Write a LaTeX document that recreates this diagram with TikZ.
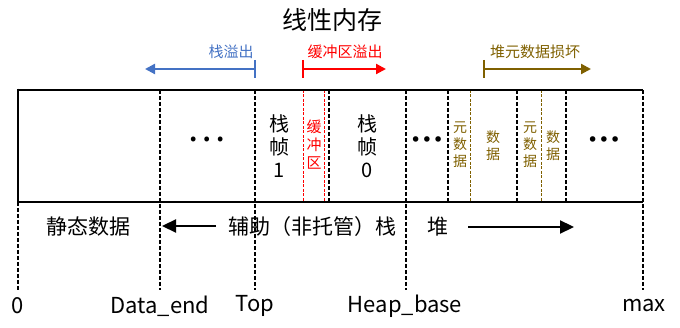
\documentclass[tikz,border=0pt]{standalone}
\usepackage{fontspec}
\setmainfont{Noto Sans CJK SC}
\newfontfamily\dejavu{DejaVu Sans}
\usetikzlibrary{arrows.meta}
\definecolor{ovblue}{RGB}{68,114,196}
\definecolor{ovred}{RGB}{255,0,0}
\definecolor{olivebrown}{RGB}{127,96,0}
\tikzset{
  every node/.style={inner sep=0pt, outer sep=0pt},
  edge/.style={line width=2.8pt},
  blackdash/.style={line width=1.8pt, dash pattern=on 4pt off 2pt},
  reddash/.style={ovred, line width=0.9pt, dash pattern=on 3pt off 1.5pt},
  olivedash/.style={olivebrown, line width=0.9pt, dash pattern=on 3pt off 1.5pt},
  toparrow/.style={line width=2.2pt, -{Triangle[length=10pt,width=10pt]}},
  bararrow/.style={line width=1.6pt},
  botarrow/.style={line width=2.2pt, -{Triangle[length=14pt,width=13pt]}},
  toplabel/.style={font=\fontsize{15}{17}\selectfont},
  biglabel/.style={font=\fontsize{21}{24}\selectfont},
  frame/.style={font=\fontsize{20}{23}\selectfont, align=center},
  small/.style={font=\fontsize{14}{17}\selectfont, align=center},
  addr/.style={font=\fontsize{22}{24}\selectfont},
}
\begin{document}
\begin{tikzpicture}[x=1pt,y=-1pt]
\useasboundingbox (0,0) rectangle (680,328);
% title
\node[font=\fontsize{25}{28}\selectfont] (title) at (332,20) {线性内存};
% top arrows
\node[toplabel, text=ovblue] (tso) at (231,52) {栈溢出};
\coordinate (b1) at (255,69); \coordinate (b2) at (145,69);
\coordinate (b1t) at (255,60); \coordinate (b1b) at (255,78);
\draw[bararrow, ovblue] (b1t) -- (b1b);
\draw[toparrow, ovblue] (b1) -- (b2);
\node[toplabel, text=ovred] (tbo) at (345,52) {缓冲区溢出};
\coordinate (r1) at (303,69); \coordinate (r2) at (386,69);
\coordinate (r1t) at (303,60); \coordinate (r1b) at (303,78);
\draw[bararrow, ovred] (r1t) -- (r1b);
\draw[toparrow, ovred] (r1) -- (r2);
\node[toplabel, text=olivebrown] (tho) at (535,52) {堆元数据损坏};
\coordinate (o1) at (484,69); \coordinate (o2) at (591,69);
\coordinate (o1t) at (484,60); \coordinate (o1b) at (484,78);
\draw[bararrow, olivebrown] (o1t) -- (o1b);
\draw[toparrow, olivebrown] (o1) -- (o2);
% inner dashed separators
\foreach \x in {329,448,517,566} \draw[blackdash] (\x,90) -- (\x,202);
\foreach \x in {303,324} \draw[reddash] (\x,90) -- (\x,202);
\foreach \x in {470,541} \draw[olivedash] (\x,90) -- (\x,202);
% long dashed
\foreach \x in {160,255,406,643} \draw[blackdash] (\x,90) -- (\x,290);
\draw[blackdash] (18,202) -- (18,290);
% box edges
\draw[edge] (18,90) -- (643,90);
\draw[edge] (18,202) -- (643,202);
\draw[edge] (18,88.6) -- (18,203.4);
% contents
\node[font=\fontsize{36}{36}\selectfont] (dots1) at (207,139) {…};
\node[frame] (sf1) at (279,146) {栈\\帧\\1};
\node[font=\fontsize{15}{18}\selectfont, align=center, text=ovred] (buf) at (314,145) {缓\\冲\\区};
\node[frame] (sf0) at (367,146) {栈\\帧\\0};
\node[font=\dejavu\fontsize{19}{19}\selectfont] (dots2) at (427,142) {•••};
\node[small, text=olivebrown] (md1) at (460,145) {元\\数\\据};
\node[small, text=olivebrown] (d1) at (493,146) {数\\据};
\node[small, text=olivebrown] (md2) at (530,145) {元\\数\\据};
\node[small, text=olivebrown] (d2) at (553,146) {数\\据};
\node[font=\dejavu\fontsize{19}{19}\selectfont] (dots3) at (604,142) {•••};
% below
\node[biglabel] (static) at (88,227) {静态数据};
\node[biglabel] (stack) at (312,227) {辅助（非托管）栈};
\coordinate (sa1) at (216,226); \coordinate (sa2) at (162,226);
\draw[botarrow] (sa1) -- (sa2);
\node[biglabel] (heap) at (438,227) {堆};
\coordinate (ha1) at (468,227); \coordinate (ha2) at (574,227);
\draw[botarrow] (ha1) -- (ha2);
% addresses
\node[addr] (a0) at (18,306) {0};
\node[addr] (ade) at (160,306) {Data\_end};
\node[addr] (atop) at (255,306) {Top};
\node[addr] (ahb) at (405,306) {Heap\_base};
\node[addr] (amax) at (644,306) {max};
\end{tikzpicture}
\end{document}
